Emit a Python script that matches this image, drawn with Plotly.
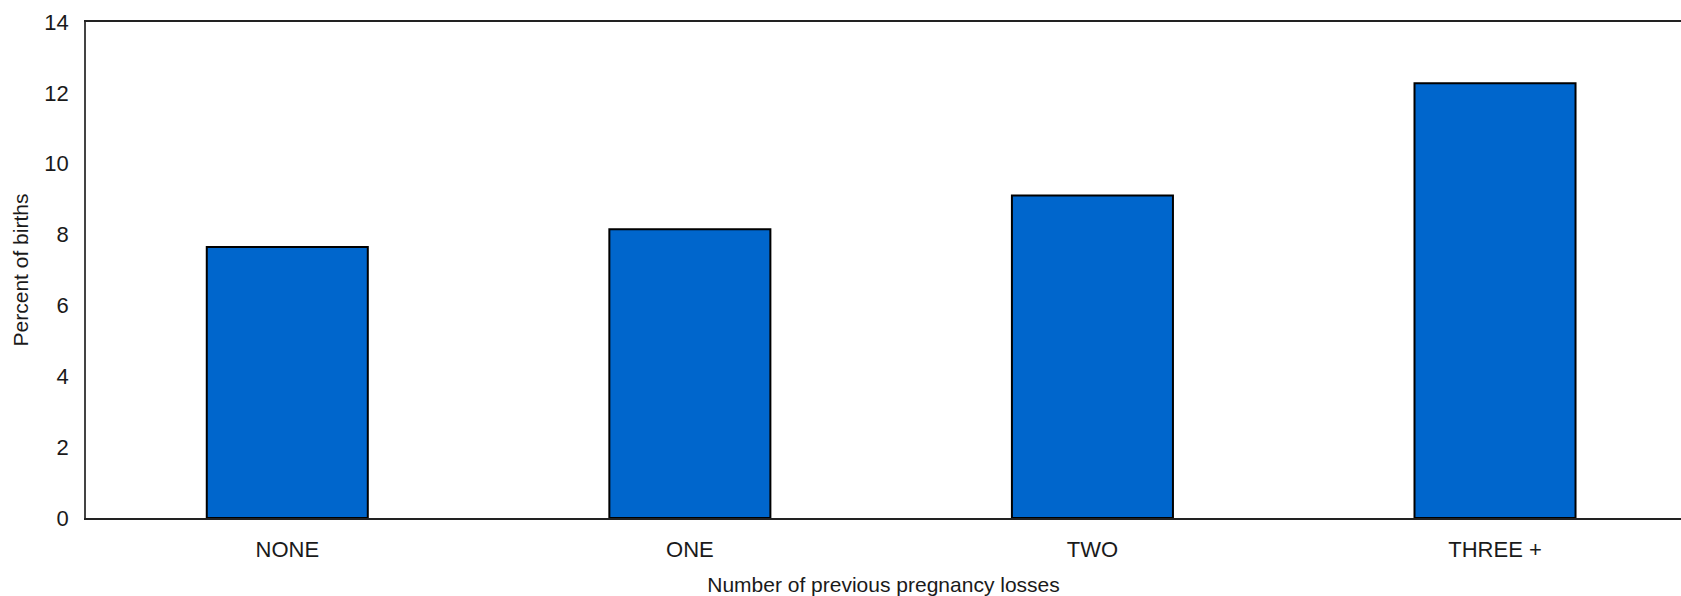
import plotly.graph_objects as go

categories = ["NONE", "ONE", "TWO", "THREE +"]
values = [7.65, 8.15, 9.1, 12.27]
y_ticks = [0, 2, 4, 6, 8, 10, 12, 14]

FONT = "Liberation Sans, Arial, sans-serif"

fig = go.Figure(
    go.Bar(
        x=categories,
        y=values,
        marker=dict(color="#0066CC", line=dict(color="#000000", width=2)),
        width=0.4,
    )
)

fig.update_layout(
    width=1681,
    height=596,
    margin=dict(l=86, r=0, t=22, b=78),
    paper_bgcolor="white",
    plot_bgcolor="white",
    showlegend=False,
    font=dict(family=FONT, size=22, color="#1a1a1a"),
)

fig.update_xaxes(
    range=[-0.5, 3.462],
    showline=True,
    linecolor="#222222",
    linewidth=1.5,
    mirror=True,
    showgrid=False,
    ticks="",
    ticklabelstandoff=11,
    tickfont=dict(size=22),
    title=dict(text="Number of previous pregnancy losses", font=dict(size=21), standoff=17),
)

fig.update_yaxes(
    range=[0, 14],
    tickvals=y_ticks,
    showline=True,
    linecolor="#444444",
    linewidth=1.5,
    mirror=False,
    showgrid=False,
    zeroline=False,
    ticks="",
    ticklabelstandoff=11,
    tickfont=dict(size=22),
    title=dict(text="Percent of births", font=dict(size=21), standoff=10),
)

fig.write_html(
    "out.html",
    config={"displayModeBar": False},
    post_script="document.body.style.margin='0';document.body.style.overflow='hidden';",
)
